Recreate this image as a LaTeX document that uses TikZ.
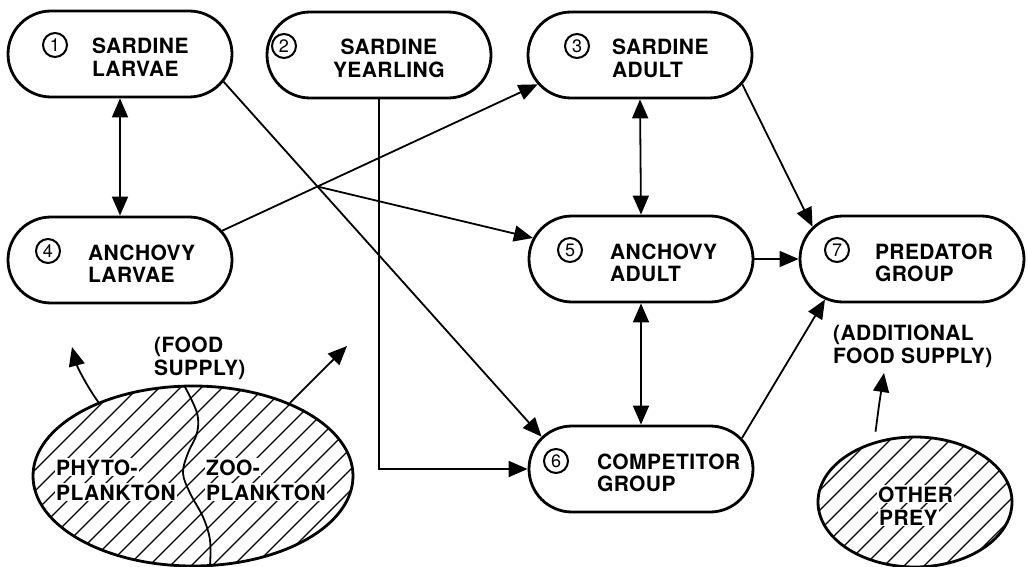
\documentclass[tikz,border=0pt]{standalone}
\usepackage{fontspec}
\usetikzlibrary{arrows.meta,shapes.misc,shapes.geometric,calc}
\newfontfamily\hv{TeX Gyre Heros}[LetterSpace=2,UprightFont=*-Bold]
\newfontfamily\hvn{TeX Gyre Heros}
\newcommand{\ntxt}[3]{\makebox[0pt][l]{\hspace*{#1pt}\raisebox{0pt}[0pt][0pt]{\begin{tabular}[t]{@{}#2@{}}#3\end{tabular}}}}
\begin{document}
\begin{tikzpicture}[x=1pt,y=-1pt,
 box/.style={rounded rectangle, draw, line width=2.8pt, minimum width=224pt, minimum height=86pt, inner sep=0pt, font=\hv\fontsize{21}{22.5}\selectfont},
 num/.style={circle, draw, line width=2pt, minimum size=24pt, inner sep=0pt, font=\hvn\fontsize{18}{18}\selectfont},
 lab/.style={inner sep=0pt, anchor=base west, font=\hv\fontsize{21}{23}\selectfont},
 hlab/.style={lab, fill=white, inner sep=1pt},
 conn/.style={line width=1.8pt},
 arr/.style={conn, -{Triangle[length=19pt,width=16pt]}},
 darr/.style={conn, {Triangle[length=19pt,width=16pt]}-{Triangle[length=19pt,width=16pt]}},
 hatch/.style={line width=1.2pt},
 blob/.style={ellipse, draw, line width=2.8pt, inner sep=0pt},
]
\useasboundingbox (0,0) rectangle (1028,567);

% main boxes
\node[box] (n1) at (120,54) {\ntxt{-28}{l}{SARDINE\\LARVAE}};
\node[box] (n2) at (379,55) {\ntxt{-46}{c}{SARDINE\\YEARLING}};
\node[box] (n3) at (640,55) {\ntxt{-28}{l}{SARDINE\\ADULT}};
\node[box] (n4) at (120,260) {\ntxt{-32}{l}{ANCHOVY\\LARVAE}};
\node[box] (n5) at (641,259) {\ntxt{-31}{l}{ANCHOVY\\ADULT}};
\node[box] (n6) at (641,469) {\ntxt{-44}{l}{COMPETITOR\\GROUP}};
\node[box] (n7) at (912,259) {\ntxt{-37}{l}{PREDATOR\\GROUP}};

% circled numbers
\node[num] (c1) at ($(n1)+(-65,-9)$) {1};
\node[num] (c2) at ($(n2)+(-95,-9)$) {2};
\node[num] (c3) at ($(n3)+(-63,-9)$) {3};
\node[num] (c4) at ($(n4)+(-72,-9)$) {4};
\node[num] (c5) at ($(n5)+(-71,-9)$) {5};
\node[num] (c6) at ($(n6)+(-85,-8)$) {6};
\node[num] (c7) at ($(n7)+(-75,-9)$) {7};

% connectors
\draw[darr] (n1.south) -- (n4.north);
\draw[darr] (n3.south) -- (n5.north);
\draw[darr] (n5.south) -- (n6.north);
\draw[arr] (n1.-15) -- (n6.162);
\draw[arr] (n2.south) |- (n6.west);
\draw[arr] (n4.16) -- (n3.196);
\coordinate (a1) at (n1.-15);
\coordinate (b1) at (n6.162);
\coordinate (a2) at (n4.16);
\coordinate (b2) at (n3.196);
\coordinate (x) at (intersection of a1--b1 and a2--b2);
\draw[arr] (x) -- (n5.169);
\draw[arr] (n3.-16) -- (n7.162);
\draw[arr] (n5.east) -- (n7.west);
\draw[arr] (n6.17) -- (n7.205);

% plankton
\begin{scope}
\clip (193,476) ellipse [x radius=160, y radius=90];
\foreach \k in {-200,-179,...,340} \draw[hatch] (\k,600) -- ++(260,-260);
\end{scope}
\draw[line width=1.8pt] plot[smooth, tension=0.6] coordinates {(185,387) (197,413) (197,433) (188,453) (183,473) (190,493) (203,517) (210,540) (210,566)};
\node[blob, minimum width=320pt, minimum height=180pt] (pl) at (193,476) {};
\node[hlab] (ph1) at (55,475) {PHYTO-};
\node[hlab] (ph2) at (55,500) {PLANKTON};
\node[hlab] (zo1) at (205,475) {ZOO-};
\node[hlab] (zo2) at (205,500) {PLANKTON};
\node[lab] (fs) at (154,352) {\begin{tabular}[t]{@{}l@{}}(FOOD\\SUPPLY)\end{tabular}};
\coordinate (fsL) at (72,347);
\coordinate (fsR) at (347,346);
\draw[arr] (pl.142) .. controls (86,385) and (77,366) .. (fsL);
\draw[arr] (pl.37) -- (fsR);

% other prey
\begin{scope}
\clip (915,502) ellipse [x radius=97, y radius=65];
\foreach \k in {650,670,...,990} \draw[hatch] (\k,600) -- ++(200,-200);
\end{scope}
\node[blob, minimum width=194pt, minimum height=130pt] (op) at (915,502) {};
\node[hlab] (ot1) at (877,502) {OTHER};
\node[hlab] (ot2) at (878,525) {PREY};
\node[lab] (af) at (833,340) {\begin{tabular}[t]{@{}l@{}}(ADDITIONAL\\FOOD SUPPLY)\end{tabular}};
\coordinate (afT) at (884,373);
\draw[arr, shorten <=10pt] (op.124) .. controls (879,405) .. (afT);
\end{tikzpicture}
\end{document}
